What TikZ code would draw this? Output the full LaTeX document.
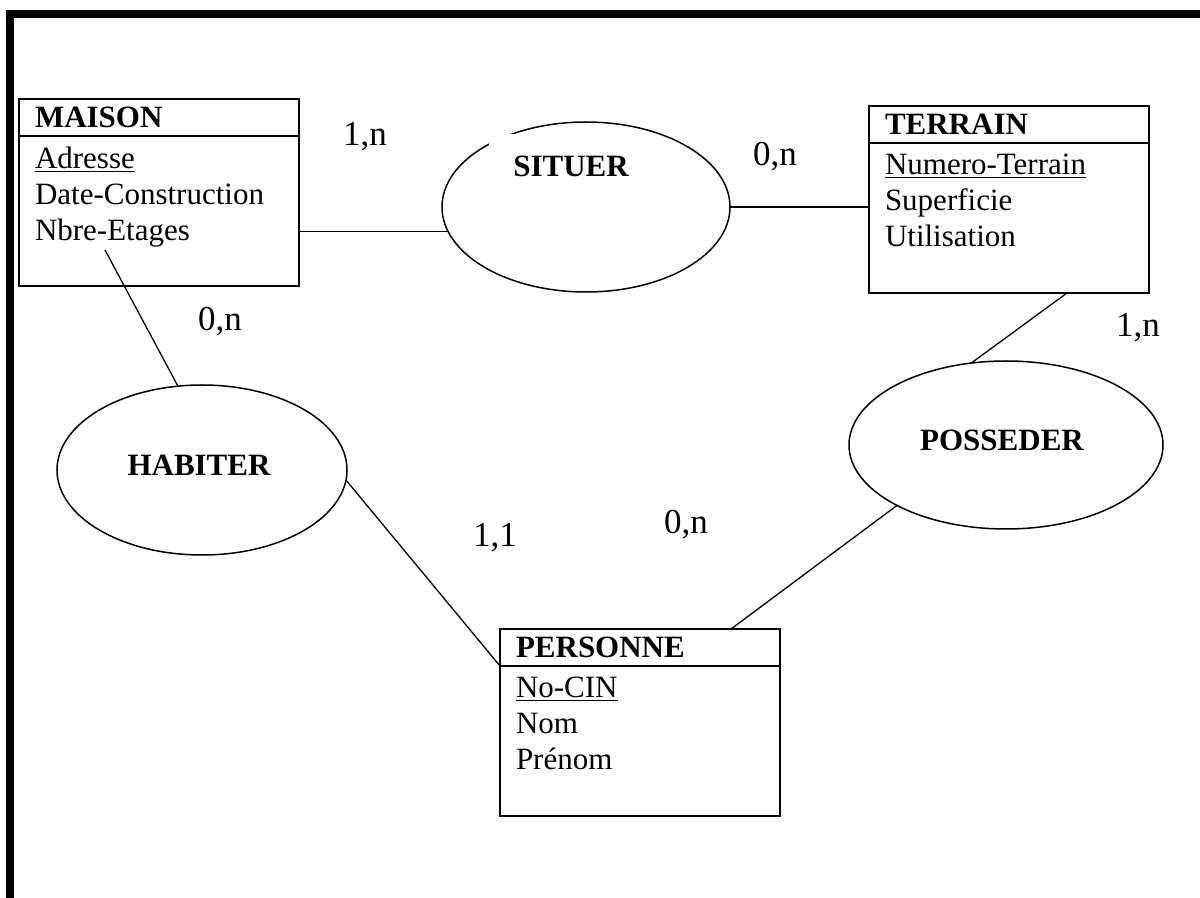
\documentclass[tikz,border=0pt]{standalone}
\usepackage{fontspec}
\setmainfont{Liberation Serif}
\usetikzlibrary{shapes.geometric}

\begin{document}
\begin{tikzpicture}[x=0.5pt,y=-0.5pt,every node/.style={outer sep=0pt}]
	
	\tikzstyle{entete}=[draw,line width=1pt,anchor=north west,minimum height=18.5pt,inner xsep=8pt,inner ysep=0pt,text width=124pt,align=left,font=\fontsize{15.5}{18}\selectfont\bfseries]
	\tikzstyle{corps}=[draw,line width=1pt,anchor=north west,minimum width=140pt,minimum height=75pt,inner sep=0pt]
	\tikzstyle{attributs}=[anchor=north west,inner sep=0pt,xshift=8pt,yshift=-5.5pt,align=left,font=\fontsize{15.5}{18}\selectfont]
	\tikzstyle{association}=[draw,ellipse,line width=0.75pt,inner sep=0pt]
	\tikzstyle{nomasso}=[inner sep=0pt,font=\fontsize{15.5}{18}\selectfont\bfseries]
	\tikzstyle{cardinalite}=[inner sep=0pt,font=\fontsize{17.5}{21}\selectfont]
	\tikzstyle{lien}=[line width=0.65pt]
	
	\useasboundingbox (0,0) rectangle (1200,898);
	\draw[line width=4pt] (10,898) -- (10,14) -- (1200,14);
	
	% entites
	\node[entete] (maison) at (19,99) {MAISON};
	\node[corps] (maisonC) at (maison.south west) {};
	\node[attributs] (maisonA) at (maisonC.north west) {\underline{Adresse}\\Date-Construction\\Nbre-Etages};
	
	\node[entete] (terrain) at (869,106) {TERRAIN};
	\node[corps] (terrainC) at (terrain.south west) {};
	\node[attributs] (terrainA) at (terrainC.north west) {\underline{Numero-Terrain}\\Superficie\\Utilisation};
	
	\node[entete] (personne) at (500,629) {PERSONNE};
	\node[corps] (personneC) at (personne.south west) {};
	\node[attributs] (personneA) at (personneC.north west) {\underline{No-CIN}\\Nom\\Prénom};
	
	% associations
	\node[association,minimum width=144pt,minimum height=85pt] (situer) at (586,207) {};
	\node[nomasso,fill=white,minimum width=82pt,minimum height=32pt] (situerN) at (571,166) {SITUER};
	
	\node[association,minimum width=145pt,minimum height=85pt] (habiter) at (202,470) {};
	\node[nomasso] (habiterN) at (199,465) {HABITER};
	
	\node[association,minimum width=157pt,minimum height=84pt] (posseder) at (1006,445) {};
	\node[nomasso] (possederN) at (1002,440) {POSSEDER};
	
	% liens
	\coordinate (nbre) at (105,250);
	\draw[lien] (maisonC.east |- situer.190) -- (situer.190);
	\draw[lien] (situer.east) -- (terrainC.west |- situer.east);
	\draw[lien] (nbre) -- (habiter.106);
	\draw[lien] (habiter.-4) -- (personne.south west);
	\draw[lien] ([xshift=-24.5pt]personne.north east) -- (posseder.209);
	\draw[lien] ([xshift=29pt]terrainC.south) -- (posseder.113);
	
	% cardinalites
	\node[cardinalite] (c1) at (365,137) {1,n};
	\node[cardinalite] (c2) at (775,157) {0,n};
	\node[cardinalite] (c3) at (220,322) {0,n};
	\node[cardinalite] (c4) at (1138,328) {1,n};
	\node[cardinalite] (c5) at (495,538) {1,1};
	\node[cardinalite] (c6) at (686,525) {0,n};
	
\end{tikzpicture}
\end{document}
